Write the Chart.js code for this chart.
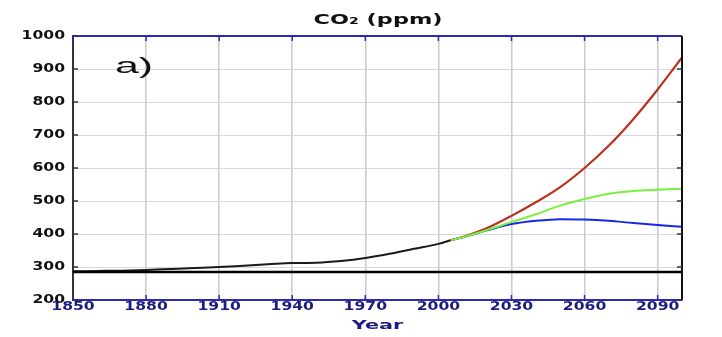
<!DOCTYPE html>
<html>
<head>
<meta charset="utf-8">
<script src="https://cdn.jsdelivr.net/npm/chart.js@4.4.0/dist/chart.umd.min.js"></script>
<style>
  html, body { margin: 0; padding: 0; background: #ffffff; }
  #wrap { width: 722px; height: 337px; position: relative; }
</style>
</head>
<body>
<div id="wrap"><canvas id="c" width="722" height="337"></canvas></div>
<script>
// ---- data ----
const histYears = [1850, 1860, 1870, 1880, 1890, 1900, 1910, 1920, 1930, 1940, 1950, 1960, 1970, 1980, 1990, 2000, 2005];
const histCO2   = [287, 288, 289, 291, 294, 297, 300, 304, 308, 312, 313, 318, 327, 340, 355, 370, 381];

const scenYears = [2005, 2010, 2020, 2030, 2040, 2050, 2060, 2070, 2080, 2090, 2100];
const blueCO2   = [381, 390, 411, 430, 440, 445, 444, 440, 433, 427, 422];
const greenCO2  = [381, 390, 412, 436, 460, 486, 506, 522, 530, 534, 537];
const redCO2    = [381, 391, 418, 455, 496, 542, 600, 668, 748, 838, 935];

const refYears  = [1850, 2100];
const refCO2    = [285, 285];

const xTickYears = [1850, 1880, 1910, 1940, 1970, 2000, 2030, 2060, 2090];
const titleText = 'CO₂ (ppm)';
const xTitleText = 'Year';
const panelLabel = 'a)';

const pts = (xs, ys) => xs.map((x, i) => ({ x: x, y: ys[i] }));

const NAVY = '#1c1c80';
const FONT = '"DejaVu Sans", "Liberation Sans", sans-serif';

// The reference's lettering is horizontally widened; text is drawn with a
// horizontal stretch about its anchor point.
let textStretch = 1;
const stretchPlugin = {
  id: 'stretch',
  afterInit(chart) {
    const ctx = chart.ctx;
    const orig = ctx.fillText.bind(ctx);
    ctx.fillText = function (text, x, y, maxWidth) {
      if (textStretch === 1) {
        return maxWidth === undefined ? orig(text, x, y) : orig(text, x, y, maxWidth);
      }
      ctx.save();
      ctx.translate(x, y);
      ctx.scale(textStretch, 1);
      orig(text, 0, 0);
      ctx.restore();
    };
  },
  afterLayout(chart) {
    // let the y tick labels use the space left of the axis box
    chart.scales.y.left = 0;
  },
  beforeDraw() { textStretch = 1.6; },           // chart title
  beforeDatasetsDraw() { textStretch = 1; },
  afterDatasetsDraw() { textStretch = 1.3; },    // axis tick labels + axis title
  afterDraw() { textStretch = 1; }
};

const framePlugin = {
  id: 'frame',
  afterDatasetsDraw(chart) {
    const { ctx, chartArea: a, scales } = chart;
    ctx.save();
    // top border (blue)
    ctx.strokeStyle = '#2b2bb0';
    ctx.lineWidth = 2;
    ctx.beginPath();
    ctx.moveTo(a.left, a.top);
    ctx.lineTo(a.right, a.top);
    ctx.stroke();
    // right border (black)
    ctx.strokeStyle = '#111';
    ctx.lineWidth = 2;
    ctx.beginPath();
    ctx.moveTo(a.right, a.top);
    ctx.lineTo(a.right, a.bottom);
    ctx.stroke();
    // inward ticks on y
    ctx.lineWidth = 1.5;
    scales.y.ticks.forEach(t => {
      const py = scales.y.getPixelForValue(t.value);
      ctx.strokeStyle = '#333';
      ctx.beginPath(); ctx.moveTo(a.left, py); ctx.lineTo(a.left + 5, py); ctx.stroke();
      ctx.beginPath(); ctx.moveTo(a.right, py); ctx.lineTo(a.right - 5, py); ctx.stroke();
    });
    // inward ticks on x
    scales.x.ticks.forEach(t => {
      const px = scales.x.getPixelForValue(t.value);
      ctx.strokeStyle = '#2b2bb0';
      ctx.beginPath(); ctx.moveTo(px, a.bottom); ctx.lineTo(px, a.bottom - 5); ctx.stroke();
      ctx.beginPath(); ctx.moveTo(px, a.top); ctx.lineTo(px, a.top + 5); ctx.stroke();
    });
    // panel label "a)"
    ctx.fillStyle = '#111';
    ctx.font = '22px "Liberation Sans", Arial, sans-serif';
    ctx.textBaseline = 'middle';
    ctx.textAlign = 'left';
    ctx.translate(a.left + 42, a.top + 31);
    ctx.scale(1.5, 1);
    ctx.fillText(panelLabel, 0, 0);
    ctx.restore();
  }
};

new Chart(document.getElementById('c'), {
  type: 'line',
  data: {
    datasets: [
      { label: 'ref', data: pts(refYears, refCO2), borderColor: '#000', borderWidth: 2.5, pointRadius: 0, tension: 0 },
      { label: 'hist', data: pts(histYears, histCO2), borderColor: '#1a1a1a', borderWidth: 2, pointRadius: 0, cubicInterpolationMode: 'monotone' },
      { label: 'green', data: pts(scenYears, greenCO2), borderColor: '#78f03c', borderWidth: 2, pointRadius: 0, cubicInterpolationMode: 'monotone' },
      { label: 'red', data: pts(scenYears, redCO2), borderColor: '#b8321e', borderWidth: 2.2, pointRadius: 0, cubicInterpolationMode: 'monotone' },
      { label: 'blue', data: pts(scenYears, blueCO2), borderColor: '#1428e6', borderWidth: 2, pointRadius: 0, cubicInterpolationMode: 'monotone' }
    ]
  },
  options: {
    responsive: false,
    animation: false,
    layout: { padding: { left: 34, right: 0, top: 0, bottom: 0 } },
    plugins: {
      legend: { display: false },
      tooltip: { enabled: false },
      title: {
        display: true,
        text: titleText,
        color: '#111',
        font: { family: FONT, size: 14, weight: 'bold', lineHeight: 1.2 },
        padding: { top: 12, bottom: 7.2 }
      }
    },
    scales: {
      x: {
        type: 'linear',
        min: 1850,
        max: 2100,
        afterBuildTicks(scale) { scale.ticks = xTickYears.map(v => ({ value: v })); },
        afterFit(scale) { scale.height = 37; },
        grid: { color: 'rgba(200,200,200,0.9)', lineWidth: 1.6, drawTicks: false },
        border: { color: '#2b2bb0', width: 2 },
        ticks: {
          z: 1,
          color: NAVY,
          padding: 0,
          maxRotation: 0,
          autoSkip: false,
          font: { family: FONT, size: 12, weight: 'bold' },
          callback: v => String(v)
        },
        title: {
          display: true,
          text: xTitleText,
          color: NAVY,
          font: { family: FONT, size: 13, weight: 'bold', lineHeight: 1.2 },
          padding: { top: 0, bottom: 4 }
        }
      },
      y: {
        min: 200,
        max: 1000,
        afterFit(scale) { scale.width = 39; },
        grid: { color: 'rgba(205,205,220,0.8)', lineWidth: 1, drawTicks: false },
        border: { color: '#333', width: 2 },
        ticks: {
          z: 1,
          stepSize: 100,
          color: '#111',
          padding: 8,
          font: { family: FONT, size: 12, weight: 'bold' },
          callback: v => String(v)
        }
      },
      yRight: {
        position: 'right',
        display: true,
        afterFit(scale) { scale.width = 40; },
        grid: { display: false, drawTicks: false },
        border: { display: false },
        ticks: { display: false }
      }
    }
  },
  plugins: [stretchPlugin, framePlugin]
});
</script>
</body>
</html>
